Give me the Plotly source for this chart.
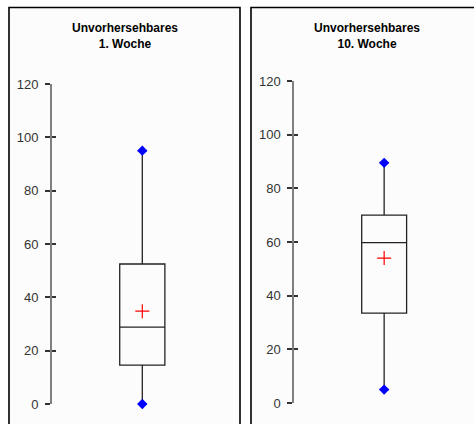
import plotly.graph_objects as go

# ---- data ----
title_top = "Unvorhersehbares"
weeks = ["1. Woche", "10. Woche"]
q1_vals = [14.6, 33.5]
median_vals = [28.8, 59.8]
q3_vals = [52.5, 70.0]
min_vals = [0.0, 5.0]
max_vals = [95.0, 89.5]
mean_vals = [34.8, 54.0]
y_ticks = [0, 20, 40, 60, 80, 100, 120]

W, H = 474, 424

def px(x):
    return x / W

def py(y):
    return 1 - y / H

fig = go.Figure()

# panel geometry (pixels): axis x, box centre, y of 0 and 120
panels = [
    dict(axis_x=52, right=232.6, y0=404, y120=84, title_x=124.5, rect=(9, 240)),
    dict(axis_x=294.3, right=474.3, y0=403, y120=81, title_x=366.5, rect=(251, 490)),
]

shapes = []
annotations = []
layout_axes = {}

for i, p in enumerate(panels):
    n = i + 1
    xa = "x" if n == 1 else f"x{n}"
    ya = "y" if n == 1 else f"y{n}"
    ya_in = f"y{n + 2}"
    xdom = [px(p["axis_x"]), min(1.0, px(p["right"]))]
    ydom = [py(p["y0"]), py(p["y120"])]
    xr = [-1, 1]

    fig.add_trace(go.Box(
        x=[0], q1=[q1_vals[i]], median=[median_vals[i]], q3=[q3_vals[i]],
        lowerfence=[min_vals[i]], upperfence=[max_vals[i]],
        width=0.5, whiskerwidth=0.2,
        line=dict(color="#222222", width=1.3),
        fillcolor="rgba(255,255,255,0)",
        xaxis=xa, yaxis=ya, showlegend=False, hoverinfo="skip",
    ))
    fig.add_trace(go.Scatter(
        x=[0, 0], y=[min_vals[i], max_vals[i]], mode="markers",
        marker=dict(symbol="diamond", size=8, color="#0000ff"),
        cliponaxis=False,
        xaxis=xa, yaxis=ya, showlegend=False, hoverinfo="skip",
    ))
    fig.add_trace(go.Scatter(
        x=[0], y=[mean_vals[i]], mode="markers",
        marker=dict(symbol="cross-thin", size=10,
                    line=dict(color="#ff0000", width=1.2)),
        cliponaxis=False,
        xaxis=xa, yaxis=ya, showlegend=False, hoverinfo="skip",
    ))
    # invisible trace for the inner-tick overlay axis
    fig.add_trace(go.Scatter(
        x=[0], y=[0], mode="markers", marker=dict(opacity=0),
        xaxis=xa, yaxis=ya_in, showlegend=False, hoverinfo="skip",
    ))

    xkey = "xaxis" if n == 1 else f"xaxis{n}"
    ykey = "yaxis" if n == 1 else f"yaxis{n}"
    layout_axes[xkey] = dict(domain=xdom, range=xr, visible=False,
                             anchor=ya, fixedrange=True, automargin=False)
    layout_axes[ykey] = dict(
        domain=ydom, range=[0, 120], anchor=xa, automargin=False,
        tickmode="array", tickvals=y_ticks,
        ticks="outside", ticklen=5, tickwidth=1.5, tickcolor="#333333",
        showline=True, linecolor="#808080", linewidth=2,
        showgrid=False, zeroline=False,
        tickfont=dict(family="Liberation Sans, Arial", size=13, color="#333333"),
        ticklabelstandoff=4,
    )
    layout_axes[f"yaxis{n + 2}"] = dict(
        overlaying=ya, anchor=xa, range=[0, 120], automargin=False,
        tickmode="array", tickvals=y_ticks,
        ticks="inside", ticklen=4, tickwidth=1.5, tickcolor="#333333",
        showticklabels=False, showline=False, showgrid=False, zeroline=False,
    )

    x0, x1 = p["rect"]
    shapes.append(dict(type="rect", xref="paper", yref="paper",
                       x0=px(x0), x1=px(x1), y0=-0.1, y1=py(7.5),
                       line=dict(color="black", width=1.6),
                       fillcolor="#fcfcfc", layer="below"))
    annotations.append(dict(
        xref="paper", yref="paper", x=px(p["title_x"]), y=py(19),
        xanchor="center", yanchor="top", showarrow=False,
        text=f"<b>{title_top}</b><br><b>{weeks[i]}</b>",
        font=dict(family="Liberation Sans, Arial", size=12, color="black"),
        align="center",
    ))

fig.update_layout(
    width=W, height=H, autosize=False,
    margin=dict(l=0, r=0, t=0, b=0, pad=0, autoexpand=False),
    paper_bgcolor="white", plot_bgcolor="rgba(0,0,0,0)",
    shapes=shapes, annotations=annotations,
    **layout_axes,
)

fig.write_html("out.html")
